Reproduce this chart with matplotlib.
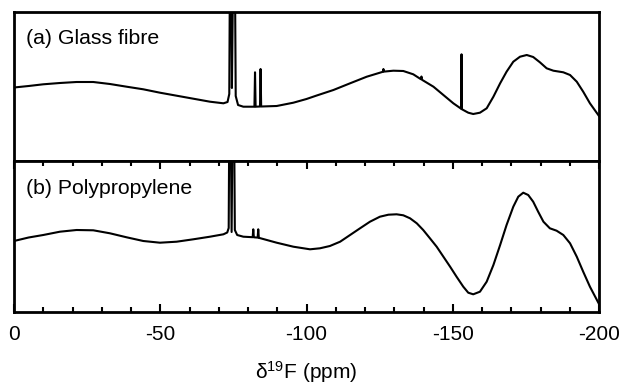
import matplotlib
matplotlib.use("Agg")
import matplotlib.pyplot as plt
from matplotlib.ticker import MultipleLocator

plt.rcParams['font.family'] = ['Liberation Sans', 'DejaVu Sans']
plt.rcParams['axes.unicode_minus'] = False
plt.rcParams['mathtext.default'] = 'regular'

# (a) Glass fibre spectrum: chemical shift (ppm) and intensity (arb.)
shift_a = [0, -5, -10, -15.7, -21.4, -27.1, -32.8, -38.5, -44.2, -49.9, -55.6, -61.3,
           -67.0, -71.6, -73.0, -73.6, -74.0, -74.5, -75.3, -75.8, -76.6, -78.4,
           -82.2, -82.4, -82.6, -84.1, -84.3, -84.5, -89.8, -95.5, -100.0, -103.5,
           -109.2, -114.9, -120.6, -126.1, -126.3, -126.5, -129.7, -133.1, -136.5,
           -139.1, -139.3, -139.5, -143.4, -146.8, -150.2, -152.9, -153.0, -153.1,
           -155.3, -157.0, -159.3, -161.6, -163.9, -166.2, -168.4, -170.7, -173.0,
           -175.3, -177.5, -179.8, -182.1, -184.4, -187.8, -190.1, -192.4, -194.6,
           -196.9, -200.0]
int_a = [72.5, 74, 75.7, 77, 78, 78, 76, 73.3, 70.7, 67.3, 64.3, 61.3,
         58.3, 56.7, 58, 66, 300, 72, 300, 64, 55, 53.3,
         53.3, 87.7, 53.3, 53.5, 91, 53.5, 54, 57.3, 61, 64.5,
         70, 76.7, 83.3, 88.2, 91, 88.4, 89.3, 89, 85.7,
         80.8, 83.5, 80.2, 73.3, 65, 56.7, 51.2, 105.7, 50.8,
         47.3, 46, 47.3, 51.7, 63.3, 76.7, 88.3, 98.3, 103.3,
         105, 103, 97.7, 91.7, 89.3, 87.7, 85, 78.3, 68.3,
         56.7, 44]

# (b) Polypropylene spectrum
shift_b = [0, -5, -10, -15.7, -21.4, -27.1, -32.8, -38.5, -44.2, -49.9, -55.6, -61.3,
           -67.0, -71.6, -72.9, -73.4, -73.8, -74.4, -75.0, -75.5, -76.3, -78.4,
           -81.6, -81.8, -82.0, -83.3, -83.5, -83.7, -89.8, -95.5, -101.2, -104.6,
           -108.0, -111.5, -114.9, -118.3, -121.7, -125.1, -128.0, -130.8, -133.1,
           -135.4, -137.7, -139.9, -142.2, -144.5, -146.8, -149.1, -151.3, -153.6,
           -155.3, -157.0, -159.3, -161.6, -163.9, -166.2, -168.4, -170.7, -172.4,
           -174.1, -175.8, -177.5, -179.2, -181.0, -183.2, -185.5, -187.8, -190.1,
           -192.4, -194.6, -196.9, -200.0]
int_b = [71, 74.5, 77, 80.3, 82, 81.7, 78.7, 74.7, 71, 69.3, 70.3, 72.7,
         75.3, 77.7, 79.5, 84, 300, 80, 300, 82, 77, 75.3,
         74.8, 82.7, 74.7, 74.4, 82.7, 74.2, 69.3, 65.3, 62.7, 63.7,
         66, 70.3, 77, 83.7, 90.3, 95.3, 97.3, 97.7, 96.7,
         93.7, 88.7, 82, 73.7, 65.3, 55.3, 45.3, 35.3, 25.3,
         19.3, 17.7, 20.3, 30.3, 47, 67, 87, 105.3, 115.3,
         119.3, 117, 110.3, 100.3, 90.3, 83.7, 81.3, 77, 68.7,
         55.3, 40.3, 25.3, 8]

labels = ["(a) Glass fibre", "(b) Polypropylene"]
xticks = [0, -50, -100, -150, -200]
xticklabels = ["0", "-50", "-100", "-150", "-200"]

W, H = 621, 387
fig = plt.figure(figsize=(W / 100, H / 100), dpi=100)
L, R = 14 / W, 599 / W
ax_a = fig.add_axes([L, 1 - 161 / H, R - L, (161 - 12) / H])
ax_b = fig.add_axes([L, 1 - 312 / H, R - L, (312 - 161) / H])

for ax, xs, ys, lab, ylim in [(ax_a, shift_a, int_a, labels[0], (-1, 148)),
                               (ax_b, shift_b, int_b, labels[1], (0, 151))]:
    ax.plot(xs, ys, color='black', lw=1.5, solid_joinstyle='round')
    ax.set_xlim(0, -200)
    ax.set_ylim(*ylim)
    ax.set_yticks([])
    for s in ax.spines.values():
        s.set_linewidth(2)
    ax.text(0.02, 0.82, lab, transform=ax.transAxes, fontsize=15.3, va='center', ha='left')

ax_a.set_xticks([])
ax_b.set_xticks(xticks)
ax_b.set_xticklabels(xticklabels)
ax_b.xaxis.set_minor_locator(MultipleLocator(10))
ax_b.tick_params(axis='x', which='both', direction='in', top=True, bottom=True,
                 labelsize=15, pad=9, width=1.5)
ax_b.tick_params(axis='x', which='major', length=6)
ax_b.tick_params(axis='x', which='minor', length=3.5)
ax_b.set_xlabel(r'$\delta^{19}$F (ppm)', fontsize=15, labelpad=11)

fig.savefig("out.png", dpi=100)
